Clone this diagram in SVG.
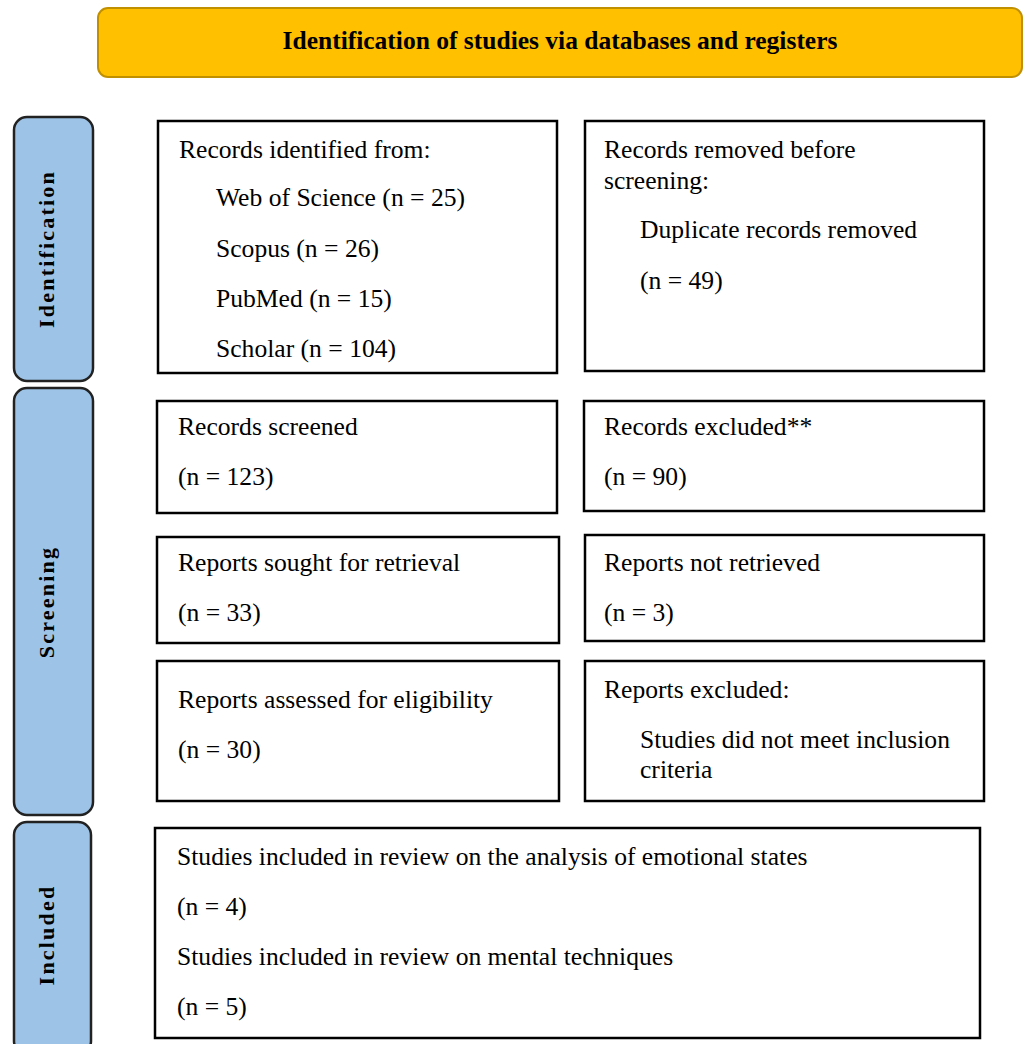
<svg xmlns="http://www.w3.org/2000/svg" width="1030" height="1044" viewBox="0 0 1030 1044">
<style>
.box{fill:#fff;stroke:#000;stroke-width:2.5}
.side{fill:#9DC3E6;stroke:#222;stroke-width:2.5}
.t{font-family:"Liberation Serif","Times New Roman",serif;font-size:25.6px;fill:#000}
.s{font-family:"Liberation Serif","Times New Roman",serif;font-size:22px;font-weight:bold;letter-spacing:2.2px;fill:#000}
.h{font-family:"Liberation Serif","Times New Roman",serif;font-size:25.5px;font-weight:bold;fill:#000}
</style>
<rect width="1030" height="1044" fill="#fff"/>
<g id="header">
<rect x="98" y="8" width="924" height="69" rx="10" fill="#FFC000" stroke="#C09000" stroke-width="2"/>
<text class="h" x="560" y="49" text-anchor="middle">Identification of studies via databases and registers</text>
</g>
<g id="side-identification">
<rect class="side" x="14" y="117" width="79" height="264" rx="13"/>
<text class="s" transform="translate(54,249) rotate(-90)" text-anchor="middle">Identification</text>
</g>
<g id="side-screening">
<rect class="side" x="14" y="388" width="79" height="427" rx="13"/>
<text class="s" transform="translate(54,602) rotate(-90)" text-anchor="middle">Screening</text>
</g>
<g id="side-included">
<rect class="side" x="14" y="822" width="77" height="232" rx="13"/>
<text class="s" transform="translate(54,935) rotate(-90)" text-anchor="middle">Included</text>
</g>
<g id="records-identified">
<rect class="box" x="158" y="121" width="399" height="252"/>
<text class="t" x="179" y="158">Records identified from:</text>
<text class="t" x="216" y="206">Web of Science (n = 25)</text>
<text class="t" x="216" y="257">Scopus (n = 26)</text>
<text class="t" x="216" y="307">PubMed (n = 15)</text>
<text class="t" x="216" y="357">Scholar (n = 104)</text>
</g>
<g id="records-removed">
<rect class="box" x="585" y="121" width="399" height="250"/>
<text class="t" x="604" y="158">Records removed before</text>
<text class="t" x="604" y="189">screening:</text>
<text class="t" x="640" y="238">Duplicate records removed</text>
<text class="t" x="640" y="289">(n = 49)</text>
</g>
<g id="records-screened">
<rect class="box" x="157" y="401" width="400" height="112"/>
<text class="t" x="178" y="435">Records screened</text>
<text class="t" x="178" y="485">(n = 123)</text>
</g>
<g id="records-excluded">
<rect class="box" x="584" y="401" width="400" height="110"/>
<text class="t" x="604" y="435">Records excluded**</text>
<text class="t" x="604" y="485">(n = 90)</text>
</g>
<g id="reports-sought">
<rect class="box" x="157" y="537" width="402" height="106"/>
<text class="t" x="178" y="571">Reports sought for retrieval</text>
<text class="t" x="178" y="621">(n = 33)</text>
</g>
<g id="reports-not-retrieved">
<rect class="box" x="585" y="535" width="399" height="106"/>
<text class="t" x="604" y="571">Reports not retrieved</text>
<text class="t" x="604" y="621">(n = 3)</text>
</g>
<g id="reports-assessed">
<rect class="box" x="157" y="661" width="402" height="140"/>
<text class="t" x="178" y="708">Reports assessed for eligibility</text>
<text class="t" x="178" y="758">(n = 30)</text>
</g>
<g id="reports-excluded">
<rect class="box" x="585" y="661" width="399" height="140"/>
<text class="t" x="604" y="698">Reports excluded:</text>
<text class="t" x="640" y="748">Studies did not meet inclusion</text>
<text class="t" x="640" y="778">criteria</text>
</g>
<g id="included">
<rect class="box" x="155" y="828" width="825" height="210"/>
<text class="t" x="177" y="865">Studies included in review on the analysis of emotional states</text>
<text class="t" x="177" y="915">(n = 4)</text>
<text class="t" x="177" y="965">Studies included in review on mental techniques</text>
<text class="t" x="177" y="1015">(n = 5)</text>
</g>
<g id="connectors"></g>
</svg>
